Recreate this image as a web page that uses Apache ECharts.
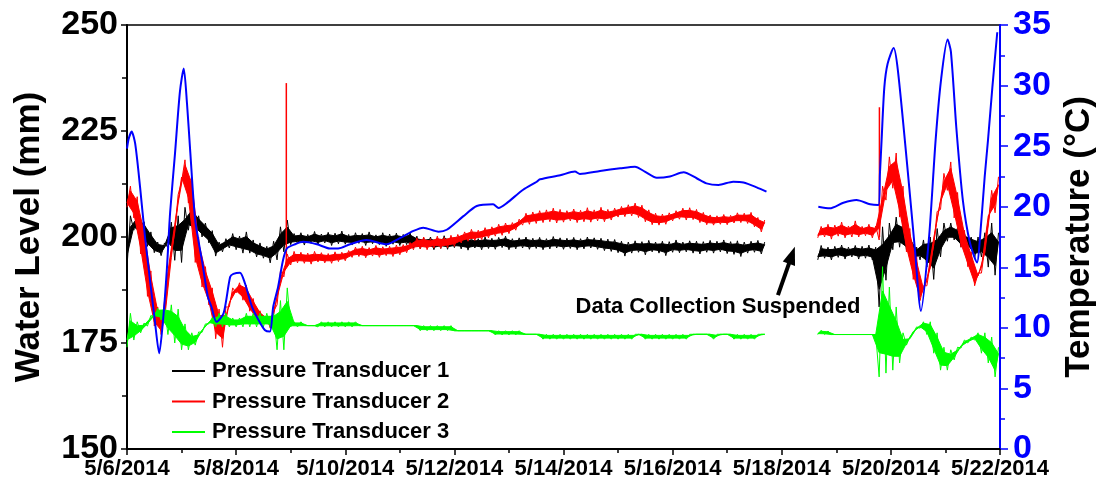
<!DOCTYPE html>
<html>
<head>
<meta charset="utf-8">
<script src="https://cdn.jsdelivr.net/npm/echarts@6/dist/echarts.min.js"></script>
<style>
html,body{margin:0;padding:0;background:#fff;}
#chart{width:1096px;height:484px;}
</style>
</head>
<body>
<div id="chart"></div>
<script>
// ---- x axis (days since 5/6/2014) tick labels ----
const dayLabels = ['5/6/2014','5/8/2014','5/10/2014','5/12/2014','5/14/2014','5/16/2014','5/18/2014','5/20/2014','5/22/2014'];

// ---- pressure transducer sampling (two logging periods) ----
const sampleStart = [0, 12.66];
const sampleCount = [94, 27];
const sampleStep = 0.125;

// Water level envelopes (mm): low / high of the noise band at each sample
const pt1Lo = [193.0,201.6,200.5,197.8,196.3,195.6,197.5,194.5,194.0,201.6,201.5,200.0,198.6,195.5,196.5,197.4,197.0,196.2,196.2,195.3,195.0,193.9,194.6,196.5,198.2,
198.4,198.1,198.5,198.2,198.6,198.0,198.4,198.3,198.1,198.5,198.0,198.4,198.2,197.8,198.3,198.0,198.2,
197.4,197.2,197.6,197.0,197.3,197.1,197.5,197.2,196.9,197.4,197.0,197.3,197.1,197.5,197.0,197.2,197.4,197.1,197.3,197.0,197.2,197.4,197.1,197.3,197.0,197.2,197.4,197.1,196.8,196.6,
196.3,195.5,196.2,196.4,195.8,196.5,196.2,195.6,196.4,196.3,196.5,196.2,196.0,196.4,196.2,196.5,196.1,195.9,195.4,196.2,196.4,196.0,
194.6,195.0,194.6,195.2,194.8,195.3,194.8,195.0,194.6,183.5,189.8,197.0,197.6,197.0,194.6,194.6,192.9,190.0,195.3,199.0,199.3,197.6,197.6,195.0,195.3,192.9,191.0];
const pt1Hi = [205.0,205.2,203.6,201.2,198.8,198.6,203.5,205.0,207.0,207.6,205.0,203.3,201.5,198.8,199.6,200.8,200.2,201.2,199.3,198.6,197.8,199.0,202.4,204.0,200.8,
201.0,200.6,201.3,200.7,201.1,200.9,201.4,200.6,201.0,200.8,201.2,200.5,201.0,200.7,200.9,200.6,201.1,
200.2,199.8,200.0,199.6,200.3,199.9,199.7,200.1,199.8,199.6,200.0,199.7,199.9,200.2,199.6,199.8,200.0,199.7,199.9,199.6,200.1,199.8,199.7,199.9,199.6,200.0,199.8,199.7,199.5,199.4,
199.0,198.8,199.1,198.9,199.2,198.8,199.0,198.9,199.3,198.8,199.1,199.0,198.9,199.2,199.0,199.3,198.9,199.1,198.8,199.0,199.2,198.8,
198.0,197.6,197.8,198.1,197.6,198.0,197.8,198.1,197.6,202.4,203.3,204.7,203.5,200.3,197.6,199.3,200.0,202.0,203.3,203.3,202.2,201.0,200.0,200.0,201.0,203.3,201.0];

const pt2Lo = [207.0,204.5,196.0,186.0,179.0,177.0,190.5,201.0,213.0,208.0,194.0,188.2,184.0,176.0,174.0,183.5,186.8,185.1,182.5,180.4,179.5,178.5,184.0,190.6,193.4,
193.9,193.8,193.6,194.1,193.9,193.8,194.2,194.4,195.2,195.4,195.1,195.5,195.2,195.6,195.4,195.8,196.3,
197.0,197.2,197.0,197.4,197.3,197.5,197.8,198.6,199.0,199.2,199.4,199.8,200.2,200.4,200.8,201.6,202.8,203.0,203.2,203.4,203.6,203.3,203.5,203.8,203.4,203.6,203.5,203.8,203.6,204.0,
204.7,204.8,205.0,204.6,203.6,202.9,202.8,203.0,203.8,204.2,204.0,204.1,203.4,202.9,202.8,203.0,202.9,203.3,203.4,203.2,202.4,201.2,
199.8,200.0,199.5,200.2,199.8,200.0,200.0,200.3,199.8,199.3,208.7,211.5,204.7,196.5,190.0,185.0,188.5,198.0,206.5,211.0,204.5,197.6,193.0,188.5,191.5,203.3,205.7];
const pt2Hi = [212.0,209.5,202.5,192.0,183.5,181.5,196.5,210.0,218.2,214.0,200.0,193.0,188.0,183.0,183.5,188.0,189.2,188.6,185.5,182.6,181.2,182.5,192.0,196.0,196.6,
196.4,196.2,196.6,196.3,196.1,196.5,196.4,196.8,197.6,197.8,197.5,198.0,197.7,197.8,198.1,198.2,198.7,
199.8,200.0,199.6,200.2,199.9,200.4,200.6,201.2,201.8,201.6,202.2,202.4,203.0,203.3,203.4,204.2,205.6,205.9,206.2,206.4,206.8,206.5,206.2,206.6,206.3,206.9,206.4,207.0,206.5,206.8,
207.2,207.6,208.0,207.5,206.4,205.6,205.4,205.7,206.2,206.8,206.9,206.5,205.8,205.2,205.0,205.3,205.1,205.7,205.6,205.8,204.6,204.0,
202.5,203.0,202.8,203.5,202.6,203.8,202.5,203.0,202.6,212.0,218.9,219.8,212.0,202.0,195.3,188.5,193.9,206.0,215.0,217.7,210.5,201.6,196.5,191.5,197.6,211.0,214.2];

const pt3Lo = [174.0,175.7,177.4,179.0,181.0,180.4,177.0,175.0,173.4,173.4,174.5,177.5,179.5,178.8,178.8,178.8,178.8,178.8,178.8,178.8,178.8,178.8,173.4,173.4,178.8,
178.8,179.1,179.1,178.8,178.8,178.8,178.8,178.8,178.8,
179.1,179.1,179.1,179.1,179.1,179.1,179.1,179.1,179.1,
177.9,177.9,177.9,177.9,177.9,
177.9,177.9,177.9,177.9,177.9,177.9,
176.9,176.9,176.9,176.9,
177.05,177.05,177.05,
175.9,175.9,175.9,175.9,175.9,175.9,175.9,175.9,175.9,175.9,175.9,175.9,175.9,175.9,
177.05,
175.9,175.9,175.9,175.9,175.9,175.9,175.9,
177.05,177.05,177.05,175.9,177.05,177.05,
175.9,175.9,175.9,175.9,
177.05,
177.0,177.0,177.0,177.0,177.0,177.0,177.0,177.0,177.0,167.0,167.9,168.6,170.3,174.5,177.4,178.5,177.0,172.6,168.6,168.6,171.0,173.8,175.0,175.7,172.6,170.3,167.0];
const pt3Hi = [182.0,180.0,179.7,181.5,183.2,183.5,184.0,183.0,179.5,177.4,177.6,179.5,181.0,182.0,182.0,180.9,180.9,182.0,182.0,182.0,182.0,182.0,185.0,188.0,180.0,
180.0,179.1,179.1,180.0,180.0,180.0,180.0,180.0,180.0,
179.1,179.1,179.1,179.1,179.1,179.1,179.1,179.1,179.1,
179.1,179.1,179.1,179.1,179.1,
177.9,177.9,177.9,177.9,177.9,177.9,
177.9,177.9,177.9,177.9,
177.05,177.05,177.05,177.05,177.05,177.05,177.05,177.05,177.05,177.05,177.05,177.05,177.05,177.05,177.05,177.05,177.05,177.05,
177.05,177.05,177.05,177.05,177.05,177.05,177.05,177.05,177.05,177.05,177.05,177.05,177.05,177.05,177.05,177.05,177.05,177.05,
178.0,177.8,177.0,177.0,177.0,177.0,177.0,177.0,177.0,193.0,188.2,183.5,177.4,176.4,178.8,180.0,180.0,177.4,174.0,173.4,174.0,175.7,176.4,177.4,177.4,176.4,174.0];

// single-reading spikes of Pressure Transducer 2 (day, from mm, to mm)
const pt2SpikeDays = [2.92, 13.79];
const pt2SpikeLo = [193.0, 200.0];
const pt2SpikeHi = [236.3, 230.6];

// Temperature (°C); null marks the suspended period
const tempDays = [0.00,0.03,0.085,0.15,0.24,0.33,0.42,0.51,0.59,0.66,0.73,0.79,0.88,0.97,1.04,1.10,1.16,1.25,1.38,1.48,1.55,1.64,1.77,1.89,1.95,2.07,2.16,2.29,2.41,2.53,2.62,2.68,2.77,2.86,2.93,3.08,3.23,3.48,3.72,3.87,4.09,4.39,4.76,5.00,5.25,5.43,5.71,5.86,6.16,6.41,6.71,6.81,6.96,7.26,7.51,7.57,7.94,8.21,8.30,8.67,9.04,9.31,9.49,9.71,9.95,10.20,10.44,10.62,10.84,11.11,11.30,11.54,11.72,
12.20,
12.67,12.88,13.13,13.37,13.62,13.77,13.80,13.83,13.88,13.94,14.05,14.13,14.31,14.44,14.55,14.70,14.82,14.92,15.04,15.10,15.20,15.32,15.45,15.58,15.63,15.72,15.78,15.86,15.95];
const tempC = [24.8,25.6,26.2,25.2,21.6,17.5,14.0,10.6,7.9,10.6,14.8,19.5,24.4,29.5,31.4,28.5,24.5,18.9,15.4,12.6,11.7,10.5,11.2,14.2,14.45,14.55,13.7,11.75,10.65,9.8,9.7,11.75,13.4,15.6,16.55,16.9,17.1,16.9,16.55,16.55,16.9,17.25,16.9,17.4,18.0,18.27,17.94,18.1,19.2,20.06,20.2,19.9,20.3,21.4,22.06,22.26,22.6,22.9,22.7,22.95,23.17,23.3,22.9,22.4,22.5,22.84,22.35,21.93,21.8,22.06,22.0,21.6,21.24,
null,
20.0,19.87,20.33,20.55,20.2,20.14,22.76,25.5,29.85,31.8,33.1,31.2,22.9,16.5,11.4,17.5,25.5,30.5,33.8,32.8,26.5,20.5,17.0,15.4,17.25,22.5,25.5,29.85,34.4];

// annotation anchor (data coordinates: day, mm)
const noteText = 'Data Collection Suspended';
const notePos = [10.83, 183.5];
const arrowTail = [11.93, 186.3];
const arrowTip = [12.24, 197.7];

const seriesNames = ['Pressure Transducer 1','Pressure Transducer 2','Pressure Transducer 3'];
const seriesColors = ['#000000','#ff0000','#00ff00'];

// zigzag through the noise envelope: low at sample time, high half a step later
function envelope(lo, hi){
  const out = [];
  let i = 0;
  for (let s = 0; s < sampleStart.length; s++){
    for (let k = 0; k < sampleCount[s]; k++){
      const t = sampleStart[s] + k*sampleStep;
      out.push([t, lo[i]]);
      out.push([t + sampleStep/2, hi[i]]);
      i++;
    }
    if (s < sampleStart.length-1) out.push([sampleStart[s] + sampleCount[s]*sampleStep + 0.2, null]);
  }
  return out;
}
// dense core of the noise band (inner part of each envelope), drawn through the axes
const CORE = 0.22;
function bandRenderer(lo, hi, color){
  return function(params, api){
    const s = params.dataIndex;
    let i0 = 0;
    for (let q = 0; q < s; q++) i0 += sampleCount[q];
    const top = [], bot = [];
    for (let k = 0; k < sampleCount[s]; k++){
      const t = sampleStart[s] + k*sampleStep;
      const a = lo[i0+k], b = hi[i0+k], r = b - a;
      top.push(api.coord([t + sampleStep/2, b - r*CORE]));
      bot.push(api.coord([t, a + r*CORE]));
    }
    const pts = [bot[0]].concat(top, bot.slice(1).reverse());
    return {type:'polygon', shape:{points:pts}, style:{fill:color, stroke:color, lineWidth:1}};
  };
}
const tempData = tempDays.map((d,i)=>[d, tempC[i]]);

const FONT = "'Liberation Sans', Arial, sans-serif";
const chart = echarts.init(document.getElementById('chart'), null, {renderer:'canvas'});
const lows = [pt1Lo, pt2Lo, pt3Lo], highs = [pt1Hi, pt2Hi, pt3Hi];

const series = [];
seriesNames.forEach((n,j)=>{
  const z = 3 + j;
  series.push({
    name: n, type:'line', xAxisIndex:0, yAxisIndex:0, z: z,
    data: envelope(lows[j], highs[j]),
    showSymbol:false, symbol:'none', connectNulls:false,
    color: seriesColors[j],
    lineStyle:{color: seriesColors[j], width:1},
    animation:false, silent:true
  });
  series.push({
    name: n, type:'custom', xAxisIndex:0, yAxisIndex:0, z: z,
    data: sampleStart.map((s,i)=>[s, i]),
    encode:{x:0, y:1},
    color: seriesColors[j],
    renderItem: bandRenderer(lows[j], highs[j], seriesColors[j]),
    animation:false, silent:true
  });
  if (j === 1){
    series.push({
      name: n, type:'custom', xAxisIndex:0, yAxisIndex:0, z: z,
      data: pt2SpikeDays.map((d,i)=>[d, pt2SpikeLo[i], pt2SpikeHi[i]]),
      encode:{x:0, y:[1,2]},
      color: seriesColors[j],
      renderItem: function(params, api){
        const a = api.coord([api.value(0), api.value(1)]);
        const b = api.coord([api.value(0), api.value(2)]);
        return {type:'line', shape:{x1:a[0], y1:a[1], x2:b[0], y2:b[1]}, style:{stroke:seriesColors[1], lineWidth:1.5}};
      },
      animation:false, silent:true
    });
  }
});
series.push({
  name:'Temperature', type:'line', xAxisIndex:0, yAxisIndex:1, z: 7,
  data: tempData, showSymbol:false, symbol:'none', connectNulls:false,
  smooth:0.25, color:'#0000ff',
  lineStyle:{color:'#0000ff', width:2}, animation:false, silent:true
});

chart.setOption({
  animation:false,
  backgroundColor:'#ffffff',
  grid:{left:127, right:96, top:25, bottom:35, outerBoundsMode:'none', containLabel:false,
    show:true, borderColor:'#000', borderWidth:1.5, backgroundColor:'transparent'},
  legend:{
    data: seriesNames, orient:'vertical', left:172, top:360, padding:0,
    icon:'rect', itemWidth:33, itemHeight:2, itemGap:8.5,
    textStyle:{fontSize:22, fontWeight:'bold', fontFamily:FONT, color:'#000', lineHeight:22, padding:[0,0,0,2]}
  },
  xAxis:{
    type:'value', min:0, max:16, interval:2,
    axisLine:{show:true, onZero:false, lineStyle:{color:'#000', width:2}},
    axisTick:{show:true, inside:false, length:6, lineStyle:{color:'#000', width:1.5}},
    minorTick:{show:true, splitNumber:2, length:4, lineStyle:{color:'#000', width:1.5}},
    splitLine:{show:false}, minorSplitLine:{show:false},
    axisLabel:{fontSize:22, fontWeight:'bold', fontFamily:FONT, color:'#000', margin:9,
      showMinLabel:true, showMaxLabel:true,
      formatter: v => dayLabels[Math.round(v/2)] || ''}
  },
  yAxis:[{
    type:'value', min:150, max:250, interval:25, position:'left',
    name:'Water Level (mm)', nameLocation:'middle', nameRotate:90, nameGap:80,
    nameTextStyle:{fontSize:35, fontWeight:'bold', fontFamily:FONT, color:'#000'},
    axisLine:{show:true, lineStyle:{color:'#000', width:2}},
    axisTick:{show:true, inside:false, length:6, lineStyle:{color:'#000', width:1.5}},
    minorTick:{show:true, splitNumber:2, length:5, lineStyle:{color:'#000', width:1.5}},
    splitLine:{show:false},
    axisLabel:{fontSize:34, fontWeight:'bold', fontFamily:FONT, color:'#000', margin:9}
  },{
    type:'value', min:0, max:35, interval:5, position:'right',
    name:'Temperature (°C)', nameLocation:'middle', nameRotate:90, nameGap:62,
    nameTextStyle:{fontSize:35, fontWeight:'bold', fontFamily:FONT, color:'#000'},
    axisLine:{show:true, lineStyle:{color:'#0000ff', width:2}},
    axisTick:{show:true, inside:false, length:8, lineStyle:{color:'#0000ff', width:1.5}},
    minorTick:{show:true, splitNumber:2, length:5, lineStyle:{color:'#0000ff', width:1.5}},
    splitLine:{show:false},
    axisLabel:{fontSize:34, fontWeight:'bold', fontFamily:FONT, color:'#0000ff', margin:13}
  }],
  series: series
});

// annotation text + arrow, positioned through the axes
const cv = {xAxisIndex:0, yAxisIndex:0};
const pText = chart.convertToPixel(cv, notePos);
const pTail = chart.convertToPixel(cv, arrowTail);
const pTip = chart.convertToPixel(cv, arrowTip);
const dx = pTip[0]-pTail[0], dy = pTip[1]-pTail[1];
const len = Math.sqrt(dx*dx+dy*dy), ux = dx/len, uy = dy/len;
const headL = 18, headW = 6.5;
const bx = pTip[0]-ux*headL, by = pTip[1]-uy*headL;
chart.setOption({
  graphic:[
    {type:'text', z:100, style:{text:noteText, x:pText[0], y:pText[1], align:'center', verticalAlign:'middle',
      textAlign:'center', textVerticalAlign:'middle', font:"bold 22px 'Liberation Sans', Arial, sans-serif", fill:'#000'}},
    {type:'line', z:100, shape:{x1:pTail[0], y1:pTail[1], x2:bx+ux*2, y2:by+uy*2}, style:{stroke:'#000', lineWidth:4}},
    {type:'polygon', z:100, shape:{points:[[pTip[0],pTip[1]],[bx-uy*headW, by+ux*headW],[bx+uy*headW, by-ux*headW]]}, style:{fill:'#000'}}
  ]
});
</script>
</body>
</html>
